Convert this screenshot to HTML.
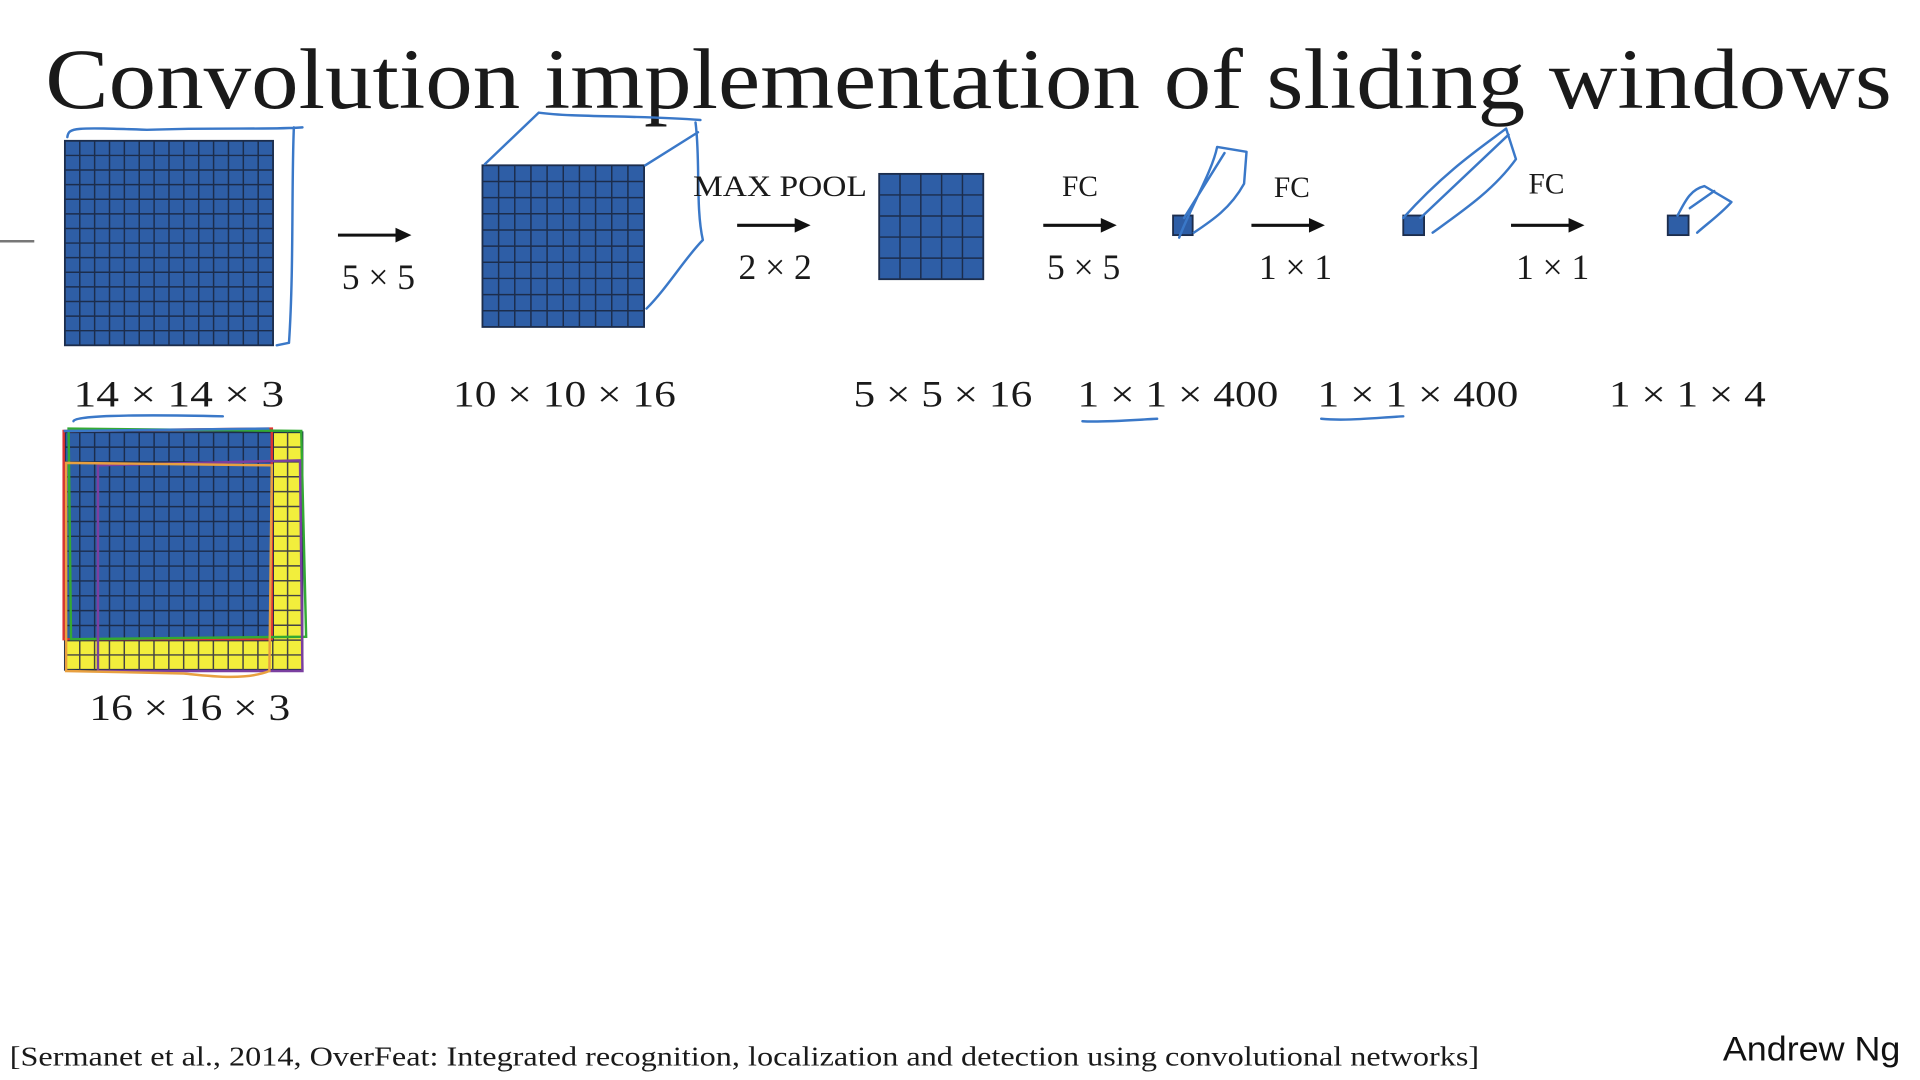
<!DOCTYPE html>
<html><head><meta charset="utf-8"><style>
html,body{margin:0;padding:0;background:#fff;width:1920px;height:1080px;overflow:hidden}
svg{display:block}
.serif{font-family:"Liberation Serif",serif;fill:#1a1a1a}
.hand{fill:none;stroke:#3a78c8;stroke-width:2;stroke-linecap:round;stroke-linejoin:round}
</style></head><body>
<svg id="s" width="1920" height="1080" viewBox="0 0 1568 882" preserveAspectRatio="none" xmlns="http://www.w3.org/2000/svg">
<text class="serif" x="37" y="88" font-size="70" textLength="1508" lengthAdjust="spacingAndGlyphs">Convolution implementation of sliding windows</text>
<line x1="0" y1="197" x2="28" y2="197" stroke="#777" stroke-width="2"/>
<g id="grids"></g>
<path class="hand" d="M55,112 C56,104 60,104 120,106 C180,104 220,106 247,104 M240,104 C238,150 240,220 236,280 L226,282"/>
<path class="hand" d="M396,134 L440,92 C470,96 520,94 572,98 M527,135 L570,108 M568,100 C572,130 568,170 574,196 C560,210 545,235 528,252"/>
<path class="hand" d="M963,194 C972,170 990,140 994,120 L1018,124 L1016,150 C1005,170 990,180 975,190 M967,178 L1000,125"/>
<path class="hand" d="M1146,178 C1180,140 1210,120 1230,105 L1238,130 C1220,155 1195,172 1170,190 M1160,178 L1232,110"/>
<path class="hand" d="M1370,176 C1376,165 1380,155 1392,152 L1414,165 C1405,175 1395,182 1386,190 M1380,170 L1400,156"/>
<g fill="#111" stroke="#111" stroke-width="2.5">
<g><line x1="276" y1="192" x2="326" y2="192"/><polygon points="336,192 323,186 323,198" stroke="none"/></g>
<g><line x1="602" y1="184" x2="652" y2="184"/><polygon points="662,184 649,178 649,190" stroke="none"/></g>
<g><line x1="852" y1="184" x2="902" y2="184"/><polygon points="912,184 899,178 899,190" stroke="none"/></g>
<g><line x1="1022" y1="184" x2="1072" y2="184"/><polygon points="1082,184 1069,178 1069,190" stroke="none"/></g>
<g><line x1="1234" y1="184" x2="1284" y2="184"/><polygon points="1294,184 1281,178 1281,190" stroke="none"/></g>
</g>
<g class="serif" font-size="29" text-anchor="middle">
<text x="309" y="236">5 × 5</text>
<text x="637" y="160" font-size="24" textLength="142" lengthAdjust="spacingAndGlyphs">MAX POOL</text>
<text x="633" y="228">2 × 2</text>
<text x="882" y="160" font-size="24">FC</text>
<text x="885" y="228">5 × 5</text>
<text x="1055" y="161" font-size="24">FC</text>
<text x="1058" y="228">1 × 1</text>
<text x="1263" y="158" font-size="24">FC</text>
<text x="1268" y="228">1 × 1</text>
</g>
<g class="serif" font-size="30">
<text x="60" y="332" textLength="172" lengthAdjust="spacingAndGlyphs">14 × 14  × 3</text>
<text x="370" y="332" textLength="182" lengthAdjust="spacingAndGlyphs">10 × 10 × 16</text>
<text x="697" y="332" textLength="146" lengthAdjust="spacingAndGlyphs">5 × 5 × 16</text>
<text x="880" y="332" textLength="164" lengthAdjust="spacingAndGlyphs">1 × 1 × 400</text>
<text x="1076" y="332" textLength="164" lengthAdjust="spacingAndGlyphs">1 × 1 × 400</text>
<text x="1314" y="332" textLength="128" lengthAdjust="spacingAndGlyphs">1 × 1 × 4</text>
<text x="73" y="588" textLength="164" lengthAdjust="spacingAndGlyphs">16 × 16 × 3</text>
</g>
<path class="hand" d="M60,344 C60,340 100,338 182,340"/>
<path class="hand" d="M884,344 C900,345 925,343 945,342"/>
<path class="hand" d="M1079,342 C1100,344 1125,341 1146,340"/>
<g id="overlay"></g>
<text class="serif" x="8" y="870" font-size="22" textLength="1200" lengthAdjust="spacingAndGlyphs">[Sermanet et al., 2014, OverFeat: Integrated recognition, localization and detection using convolutional networks]</text>
<text x="1407" y="866" font-size="28" font-family="'Liberation Sans',sans-serif" fill="#111" textLength="145" lengthAdjust="spacingAndGlyphs">Andrew Ng</text>
</svg>
<script>
const NS='http://www.w3.org/2000/svg';
const gridNames=['grid-14x14','grid-10x10','grid-5x5','cell-fc1','cell-fc2','cell-fc3','grid-16x16-yellow','grid-16x16-blue'];
const gridCells=[14,10,5,1,1,1,16,14];
const gridBoxes=[[53,115,170,167],[394,135,132,132],[718,142,85,86],[958,176,16,16],[1146,176,17,16],[1362,176,17,16],[53,353,194,194],[53,353,170,170]];
const gridFill=['#2e5ea6','#2e5ea6','#2e5ea6','#2e5ea6','#2e5ea6','#2e5ea6','#f2ee3c','#2e5ea6'];
const g=document.getElementById('grids');
gridBoxes.forEach((b,i)=>{
  const grp=document.createElementNS(NS,'g');
  
  
  const r=document.createElementNS(NS,'rect');
  r.setAttribute('x',b[0]);r.setAttribute('y',b[1]);r.setAttribute('width',b[2]);r.setAttribute('height',b[3]);
  r.setAttribute('fill',gridFill[i]);r.setAttribute('stroke','#1c2d4c');r.setAttribute('stroke-width','1.5');
  grp.appendChild(r);
  const n=gridCells[i];let d='';
  for(let k=1;k<n;k++){
    const x=b[0]+b[2]*k/n,y=b[1]+b[3]*k/n;
    d+='M'+x+','+b[1]+'V'+(b[1]+b[3])+'M'+b[0]+','+y+'H'+(b[0]+b[2]);
  }
  if(d){const p=document.createElementNS(NS,'path');p.setAttribute('d',d);p.setAttribute('stroke',i==6?'#444':'#1c2d4c');p.setAttribute('stroke-width','1.2');p.setAttribute('fill','none');grp.appendChild(p);}
  g.appendChild(grp);
});
const ov=document.getElementById('overlay');
const outlines=[['#d33','M52,352 L222,350 L222,522 L52,522 Z'],['#3a3','M56,350 L246,352 L250,520 L58,522 Z'],['#7a3fa0','M80,380 L245,376 L247,548 L80,548 Z'],['#e8a040','M54,378 L222,380 L220,548 C200,556 170,552 150,550 L54,548 Z'],['#3a78c8','M52,352 L220,350']];
outlines.forEach(o=>{
  const p=document.createElementNS(NS,'path');
  
  
  p.setAttribute('d',o[1]);p.setAttribute('fill','none');p.setAttribute('stroke',o[0]);p.setAttribute('stroke-width','2');
  ov.appendChild(p);
});
</script>
</body></html>
